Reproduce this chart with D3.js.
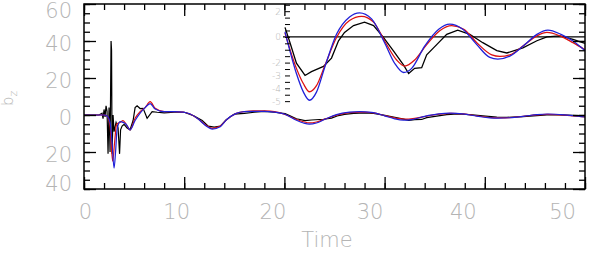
<!DOCTYPE html>
<html>
<head>
<meta charset="utf-8">
<script src="https://cdn.jsdelivr.net/npm/d3@7"></script>
<style>
  html, body { margin: 0; padding: 0; background: #fff; }
  svg text { font-family: "DejaVu Sans", sans-serif; font-weight: 200; fill: #b4b4b4; }
</style>
</head>
<body>
<div id="chart"></div>
<script>
// time samples and values, one pair per curve
var blackT = [0, 1.5, 1.8, 1.9, 2.0, 2.1, 2.2, 2.3, 2.4, 2.5, 2.6, 2.7, 2.75, 2.8, 2.9, 3.0, 3.2, 3.4, 3.55, 3.65,
    3.8, 4.0, 4.3, 4.6, 4.9, 5.1, 5.3, 5.6, 5.9, 6.3, 6.8, 7.3, 8.0, 9.0, 10.0, 11.0, 11.8, 12.4, 13.0, 13.6,
    14.2, 15.0, 16.0, 17.0, 18.0, 19.0, 20.06, 20.56, 21.2, 22.06, 22.7, 23.9, 24.7, 25.4, 26.0, 26.9, 28.0,
    28.9, 29.9, 30.9, 31.9, 32.4, 33.0, 33.7, 34.2, 35.2, 36.2, 37.3, 38.5, 39.8, 41.2, 42.2, 43.8, 45.2,
    46.2, 47.5, 48.8, 50];
var blackV = [0, 0, 1, -2, 3, -1, 5, 2, -21, 4, -20, 40, 35, -21, 0, -9, -4, -7, -21, -8,
    -6, -5, -7, -8, -3, 4, 5, 3.5, 3.6, -1.8, 1.8, 1.5, 1.2, 1.5, 1.5, -0.5, -3, -6, -6.5, -6,
    -2.5, 0.5, 0.9, 1.5, 2, 1.5, 0.74, -0.45, -2.05, -3.0, -2.7, -2.3, -1.65, -0.3, 0.35, 0.88, 1.15,
    0.88, -0.05, -1.1, -2.2, -2.85, -2.45, -2.4, -1.4, -0.6, 0.2, 0.53, 0.2, -0.45, -1.07, -1.25, -0.85, -0.3,
    0, 0.08, -0.2, -0.5];

var redT = [0, 2.0, 2.3, 2.6, 2.86, 3.05, 3.25, 3.6, 3.9, 4.2, 4.6, 5.1, 5.6, 6.1, 6.6, 7.1, 8.0, 9.0, 9.9,
    10.6, 11.3, 12.3, 12.8, 13.6, 14.2, 15.2, 16.0, 16.9, 18.0, 19.0, 20.06, 21.2, 21.9, 22.5, 23.2, 24.05,
    25.2, 26.5, 27.7, 28.9, 30.0, 31.2, 32.0, 33.0, 34.2, 35.5, 36.7, 37.9, 39.2, 40.7, 41.5, 42.5, 43.8,
    45.2, 46.2, 47.5, 48.8, 50];
var redV = [0, 0, -0.5, -6, -25, -15, -5, -4, -3, -5, -8, -1.8, 1.8, 4, 7.2, 3.6, 1.8, 1.8, 1.6,
    0.5, -1.8, -6, -7.2, -6, -2.7, 0.9, 1.8, 2.3, 2.2, 1.8, 0.3, -2.45, -3.65, -4.27, -3.8, -2.2,
    -0.05, 1.28, 1.6, 1.15, -0.32, -1.8, -2.27, -1.8, -0.6, 0.48, 0.88, 0.6, -0.45, -1.4, -1.52, -1.4, -0.72,
    0.08, 0.35, 0.08, -0.45, -1.0];

var blueT = [0, 2.0, 2.3, 2.6, 2.8, 3.0, 3.15, 3.3, 3.6, 3.9, 4.2, 4.6, 5.1, 5.6, 6.1, 6.6, 7.1, 8.0, 9.0,
    9.9, 10.6, 11.3, 12.3, 12.8, 13.6, 14.2, 15.2, 16.0, 16.9, 18.0, 19.0, 20.06, 21.2, 21.9, 22.5, 23.2,
    24.05, 25.2, 26.5, 27.5, 28.7, 30.0, 31.0, 31.9, 32.7, 34.0, 35.4, 36.5, 37.8, 39.2, 40.5, 41.3, 42.5,
    44.0, 45.2, 46.3, 47.6, 48.8, 50];
var blueV = [0, 0, -0.5, -4, -15, -28.7, -20, -8, -3.6, -4, -5, -8, -3, 1, 4, 6.2, 3.2, 1.8, 1.8,
    1.6, 0.5, -1.8, -6.3, -7.6, -6.3, -2.7, 0.9, 1.8, 2.0, 2.0, 1.6, 0.4, -2.85, -4.3, -4.93, -4.3,
    -2.3, 0.2, 1.55, 1.87, 1.4, -0.45, -2.05, -2.77, -2.45, -0.72, 0.6, 1.0, 0.6, -0.6, -1.6, -1.73, -1.5,
    -0.6, 0.2, 0.53, 0.2, -0.32, -1.07];

var xTicks = [0, 10, 20, 30, 40, 50];
var yTicks = [-40, -20, 0, 20, 40, 60];
var yTickLabels = ['40', '20', '0', '20', '40', '60'];
var insetTicks = [2, 0, -2, -3, -4, -5];
var insetTickLabels = ['2', '0', '-2', '-3', '-4', '-5'];
var insetStart = 20.06;

function zip(ts, vs) {
    'use strict';
    return ts.map(function (t, i) { return [t, vs[i]]; });
}

function init() {
    'use strict';
    var W = 600, H = 254;
    var left = 84, right = 585, top = 4, bottom = 189;
    // the original plot draws its x labels a little left of their ticks
    var xLabelShift = [1, -8, -12, -15, -22, -23];
    var series = [
        {pts: zip(blackT, blackV), color: '#000000', curve: d3.curveLinear},
        {pts: zip(redT, redV), color: '#dd1010', curve: d3.curveMonotoneX},
        {pts: zip(blueT, blueV), color: '#2020d8', curve: d3.curveMonotoneX}
    ];

    var svg = d3.select('#chart').append('svg')
        .attr('width', W).attr('height', H);

    var x = d3.scaleLinear().domain([0, 50]).range([left, right]);
    var y = d3.scaleLinear().domain([-40, 60]).range([bottom, top]);
    var yIn = d3.scaleLinear().domain([-5.3, 2.56]).range([105, 4]);

    // main curves
    svg.append('defs').append('clipPath').attr('id', 'clip')
        .append('rect').attr('x', left).attr('y', top)
        .attr('width', right - left).attr('height', bottom - top);
    var main = svg.append('g').attr('clip-path', 'url(#clip)');
    series.forEach(function (s) {
        main.append('path')
            .attr('d', d3.line().x(function (d) { return x(d[0]); })
                .y(function (d) { return y(d[1]); }).curve(s.curve)(s.pts))
            .attr('fill', 'none').attr('stroke', s.color).attr('stroke-width', 1.2);
    });

    // inset: same data for late times, magnified in y
    var inset = svg.append('g');
    inset.append('line')
        .attr('x1', x(insetStart) - 2).attr('x2', right)
        .attr('y1', yIn(0)).attr('y2', yIn(0))
        .attr('stroke', '#000').attr('stroke-width', 1.2);
    series.forEach(function (s) {
        var pts = s.pts.filter(function (d) { return d[0] >= insetStart; });
        inset.append('path')
            .attr('d', d3.line().x(function (d) { return x(d[0]); })
                .y(function (d) { return yIn(d[1]); }).curve(s.curve)(pts))
            .attr('fill', 'none').attr('stroke', s.color).attr('stroke-width', 1.3);
    });
    var inAx = inset.append('g').attr('transform', 'translate(' + x(insetStart) + ',0)')
        .call(d3.axisLeft(yIn).tickValues(d3.range(-5, 2.51, 0.5)).tickSize(-5).tickFormat(''));
    inAx.select('.domain').remove();
    var inLab = inset.append('g').attr('transform', 'translate(' + x(insetStart) + ',0)')
        .call(d3.axisLeft(yIn).tickValues(insetTicks).tickSize(0).tickPadding(4)
            .tickFormat(function (d, i) { return insetTickLabels[i]; }));
    inLab.select('.domain').remove();
    inLab.selectAll('text').style('font-size', '9px');

    // frame with inward ticks
    svg.append('rect').attr('x', left).attr('y', top)
        .attr('width', right - left).attr('height', bottom - top)
        .attr('fill', 'none').attr('stroke', '#000').attr('stroke-width', 1.5);

    function tickAxis(axis, tr, values, size) {
        var g = svg.append('g').attr('transform', tr)
            .call(axis.tickValues(values).tickSize(size).tickFormat(''));
        g.select('.domain').remove();
        g.selectAll('line').attr('stroke', '#000').attr('stroke-width', 1.3);
        return g;
    }
    var xMinor = d3.range(0, 50.1, 2);
    var yMinor = d3.range(-40, 60.1, 5);
    tickAxis(d3.axisBottom(x), 'translate(0,' + bottom + ')', xMinor, -6);
    tickAxis(d3.axisBottom(x), 'translate(0,' + bottom + ')', xTicks, -12);
    tickAxis(d3.axisTop(x), 'translate(0,' + top + ')', xMinor, -6);
    tickAxis(d3.axisTop(x), 'translate(0,' + top + ')', xTicks, -12);
    tickAxis(d3.axisLeft(y), 'translate(' + left + ',0)', yMinor, -6);
    tickAxis(d3.axisLeft(y), 'translate(' + left + ',0)', yTicks, -12);
    tickAxis(d3.axisRight(y), 'translate(' + right + ',0)', yMinor, -6);
    tickAxis(d3.axisRight(y), 'translate(' + right + ',0)', yTicks, -12);

    // tick labels
    var xl = svg.append('g').attr('transform', 'translate(0,' + bottom + ')')
        .call(d3.axisBottom(x).tickValues(xTicks).tickSize(0).tickPadding(15).tickFormat(d3.format('d')));
    xl.select('.domain').remove();
    xl.selectAll('text').style('font-size', '21px')
        .attr('dx', function (d, i) { return xLabelShift[i]; });

    var yl = svg.append('g').attr('transform', 'translate(' + left + ',0)')
        .call(d3.axisLeft(y).tickValues(yTicks).tickSize(0).tickPadding(12)
            .tickFormat(function (d, i) { return yTickLabels[i]; }));
    yl.select('.domain').remove();
    yl.selectAll('text').style('font-size', '21px')
        .attr('dy', function (d) {
            if (d === 60) { return '0.62em'; }
            if (d === -40) { return '0.05em'; }
            return '0.45em';
        });

    svg.append('text').attr('x', 327).attr('y', 247)
        .attr('text-anchor', 'middle').style('font-size', '21px').text('Time');

    var yt = svg.append('text').attr('transform', 'translate(13,106) rotate(-90)')
        .style('font-size', '15px');
    yt.append('tspan').text('b');
    yt.append('tspan').attr('dy', 4).style('font-size', '11px').text('z');
}

window.onload = init;
</script>
</body>
</html>
